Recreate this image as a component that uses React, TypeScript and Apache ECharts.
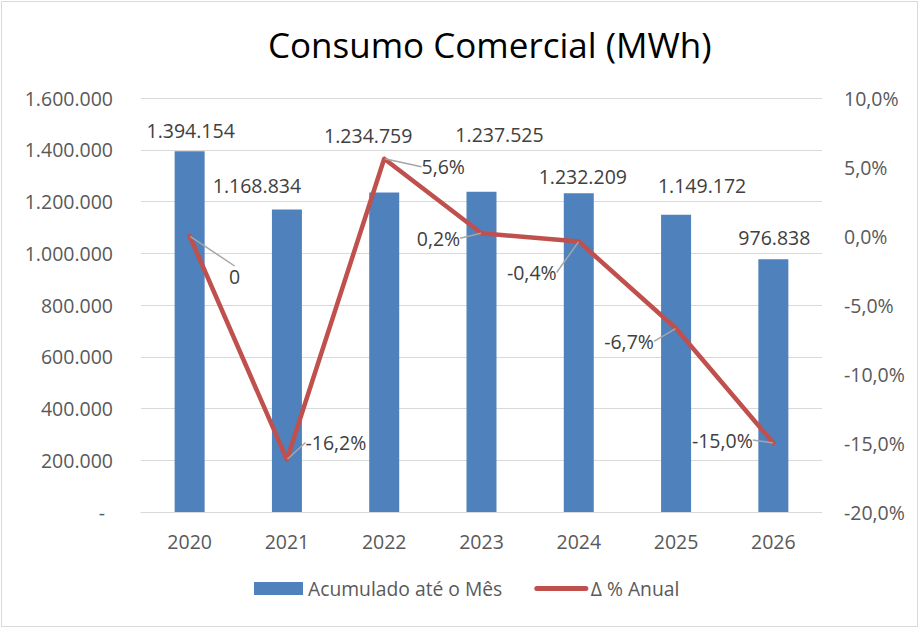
import React, { useEffect, useRef } from "react";
import * as echarts from "echarts";

const categories = ["2020", "2021", "2022", "2023", "2024", "2025", "2026"];
const acumulado = [1394154, 1168834, 1234759, 1237525, 1232209, 1149172, 976838];
const variacao = [0, -16.2, 5.6, 0.2, -0.4, -6.7, -15.0];
const leftTicks = { min: 0, max: 1600000, interval: 200000 };
const rightTicks = { min: -20, max: 10, interval: 5 };

// label placement (style only)
const barLabelOffsets = [[1, -6], [-30, -9], [-16, -42], [18, -42], [4, -2], [26, -14], [1, -7]];
const lineLabelOffsets = [[45, 40], [49, -17], [59, 8], [-43, 5], [-47, 31], [-47, 13], [-51, -3]];

const FONT = "'Open Sans', 'Noto Sans', sans-serif";
const FS = 19.5;

function fmtThousands(v: number): string {
  return String(Math.round(v)).replace(/\B(?=(\d{3})+(?!\d))/g, ".");
}
function fmtPct(v: number): string {
  return v.toFixed(1).replace(".", ",") + "%";
}

export default function App() {
  const ref = useRef<HTMLDivElement>(null);
  useEffect(() => {
    document.body.style.margin = "0";
    const chart = echarts.init(ref.current!, null, { renderer: "svg" });
    chart.setOption({
      animation: false,
      backgroundColor: "#ffffff",
      textStyle: { fontFamily: FONT },
      title: {
        text: "Consumo Comercial (MWh)",
        left: 263,
        top: 22,
        textStyle: { fontFamily: FONT, fontSize: 35, fontWeight: "normal", color: "#000000" },
      },
      graphic: [
        {
          type: "rect",
          shape: { x: 1.5, y: 1.5, width: 916, height: 625 },
          style: { fill: "none", stroke: "#D9D9D9", lineWidth: 1 },
          silent: true,
          z: -10,
        },
      ],
      legend: {
        bottom: 28,
        left: 249,
        itemWidth: 49,
        itemHeight: 13,
        itemGap: 32,
        textStyle: { fontFamily: FONT, fontSize: 19.3, color: "#595959" },
        data: [
          { name: "Acumulado até o Mês", icon: "rect" },
          {
            name: "Δ % Anual",
            itemStyle: { opacity: 0 },
            lineStyle: { width: 5, cap: "round", color: "#C0504D" },
          },
        ],
      },
      grid: { left: 141, right: 98, top: 98, bottom: 119, containLabel: false },
      xAxis: {
        type: "category",
        data: categories,
        axisLine: { show: true, lineStyle: { color: "#D9D9D9" } },
        axisTick: { show: false },
        axisLabel: { fontFamily: FONT, fontSize: FS, color: "#595959", margin: 19 },
      },
      yAxis: [
        {
          type: "value",
          min: leftTicks.min,
          max: leftTicks.max,
          interval: leftTicks.interval,
          axisLine: { show: false },
          axisTick: { show: false },
          splitLine: { lineStyle: { color: "#D9D9D9", width: 1 } },
          axisLabel: {
            fontFamily: FONT,
            fontSize: FS,
            color: "#595959",
            margin: 28,
            formatter: (v: number) => (v === 0 ? "{d|-}" : fmtThousands(v)),
            rich: { d: { fontFamily: FONT, fontSize: FS, color: "#595959", padding: [0, 8, 0, 0] } },
          },
        },
        {
          type: "value",
          min: rightTicks.min,
          max: rightTicks.max,
          interval: rightTicks.interval,
          axisLine: { show: false },
          axisTick: { show: false },
          splitLine: { show: false },
          axisLabel: {
            fontFamily: FONT,
            fontSize: FS,
            color: "#595959",
            margin: 22,
            formatter: (v: number) => fmtPct(v),
          },
        },
      ],
      series: [
        {
          name: "Acumulado até o Mês",
          type: "bar",
          yAxisIndex: 0,
          barWidth: 30,
          itemStyle: { color: "#4F81BD" },
          data: acumulado.map((v, i) => ({
            value: v,
            label: { offset: barLabelOffsets[i] },
          })),
          label: {
            show: true,
            position: "top",
            fontFamily: FONT,
            fontSize: FS,
            lineHeight: 20,
            color: "#404040",
            formatter: (p: any) => fmtThousands(p.value),
          },
          z: 2,
        },
        {
          name: "Δ % Anual",
          type: "line",
          yAxisIndex: 1,
          data: variacao,
          symbol: "circle",
          symbolSize: 1,
          itemStyle: { color: "#C0504D" },
          lineStyle: { color: "#C0504D", width: 4.5, cap: "round", join: "round" },
          label: {
            show: true,
            position: "inside",
            fontFamily: FONT,
            fontSize: FS,
            color: "#404040",
            formatter: (p: any) => (p.value === 0 ? "0" : fmtPct(p.value)),
          },
          labelLine: { show: true, lineStyle: { color: "#A6A6A6", width: 1.5 } },
          labelLayout: (params: any) => ({
            dx: lineLabelOffsets[params.dataIndex][0],
            dy: lineLabelOffsets[params.dataIndex][1],
          }),
          z: 5,
        },
      ],
    });
    return () => chart.dispose();
  }, []);
  return <div ref={ref} style={{ width: 920, height: 631 }} />;
}
